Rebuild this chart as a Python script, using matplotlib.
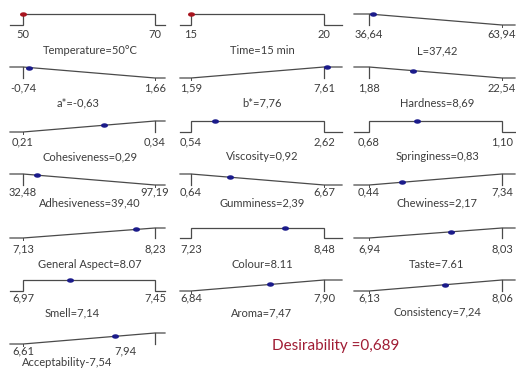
import numpy as np
import matplotlib
matplotlib.use('Agg')
import matplotlib.pyplot as plt
from matplotlib.path import Path
from matplotlib import transforms

plt.rcParams['font.family'] = ['Lato', 'DejaVu Sans']

# desirability panels, read left->right, top->bottom
names = ['Temperature', 'Time', 'L', 'a*', 'b*', 'Hardness', 'Cohesiveness',
         'Viscosity', 'Springiness', 'Adhesiveness', 'Gumminess', 'Chewiness',
         'General Aspect', 'Colour', 'Taste', 'Smell', 'Aroma', 'Consistency',
         'Acceptability']
goals = ['target', 'target', 'min', 'min', 'max', 'min', 'max',
         'target', 'target', 'min', 'min', 'max',
         'max', 'target', 'max', 'target', 'max', 'max', 'max']
lows = [50, 15, 36.64, -0.74, 1.59, 1.88, 0.21, 0.54, 0.68, 32.48, 0.64, 0.44,
        7.13, 7.23, 6.94, 6.97, 6.84, 6.13, 6.61]
highs = [70, 20, 63.94, 1.66, 7.61, 22.54, 0.34, 2.62, 1.10, 97.19, 6.67, 7.34,
         8.23, 8.48, 8.03, 7.45, 7.90, 8.06, 7.94]
values = [50, 15, 37.42, -0.63, 7.76, 8.69, 0.29, 0.92, 0.83, 39.40, 2.39, 2.17,
          8.07, 8.11, 7.61, 7.14, 7.47, 7.24, 7.54]
low_labels = ['50', '15', '36,64', '-0,74', '1,59', '1,88', '0,21', '0,54', '0,68',
              '32,48', '0,64', '0,44', '7,13', '7,23', '6,94', '6,97', '6,84',
              '6,13', '6,61']
high_labels = ['70', '20', '63,94', '1,66', '7,61', '22,54', '0,34', '2,62', '1,10',
               '97,19', '6,67', '7,34', '8,23', '8,48', '8,03', '7,45', '7,90',
               '8,06', '7,94']
titles = ['Temperature=50°C', 'Time=15 min', 'L=37,42', 'a*=-0,63', 'b*=7,76',
          'Hardness=8,69', 'Cohesiveness=0,29', 'Viscosity=0,92', 'Springiness=0,83',
          'Adhesiveness=39,40', 'Gumminess=2,39', 'Chewiness=2,17',
          'General Aspect=8.07', 'Colour=8.11', 'Taste=7.61', 'Smell=7,14',
          'Aroma=7,47', 'Consistency=7,24', 'Acceptability-7,54']
factors = ['Temperature', 'Time']
desirability = '0,689'

# layout in pixels
W, H = 516, 370
cols = [(10, 23, 155, 165), (180, 191, 324, 342), (354, 369, 502, 515)]
rows = [(14, 25), (67, 78), (121, 132), (174, 185), (228, 238), (280, 291), (333, 344)]
label_y = [34, 88, 142, 192, 249, 298, 351]
title_y = [51, 103, 157, 203, 265, 313, 362]
title_x = [90, 262, 437]
title_x_fix = {'a*': 78, 'Smell': 72, 'Acceptability': 67}
hi_label_x_fix = {'Acceptability': 125}

line_c = '#4a4a4a'
text_c = '#3c3c3c'

t = np.linspace(0, 2 * np.pi, 40)
ellipse = Path(np.column_stack([np.cos(t), 0.55 * np.sin(t)]), closed=True)

fig = plt.figure(figsize=(W / 100, H / 100), dpi=100)
fig.patch.set_facecolor('white')

for i, name in enumerate(names):
    r, c = divmod(i, 3)
    left, lo_px, hi_px, right = cols[c]
    top, bot = rows[r]
    ax = fig.add_axes([left / W, 1 - bot / H, (right - left) / W, (bot - top) / H])
    ax.axis('off')
    lo, hi = lows[i], highs[i]
    scale = (hi - lo) / (hi_px - lo_px)
    xmin = lo - (lo_px - left) * scale
    xmax = hi + (right - hi_px) * scale
    ax.set_xlim(xmin, xmax)
    ax.set_ylim(0, 1)

    g = goals[i]
    if g == 'target':
        xs = [xmin, lo, lo, hi, hi, xmax]
        ds = [0, 0, 1, 1, 0, 0]
        dv = 1
    elif g == 'min':
        xs = [xmin, lo, hi, xmax]
        ds = [1, 1, 0, 0]
        ax.plot([lo, lo], [1, 0], color=line_c, lw=0.9, clip_on=False)
        ax.plot([hi, hi], [0, -0.2], color=line_c, lw=0.7, clip_on=False)
        dv = np.interp(values[i], xs, ds)
    else:
        xs = [xmin, lo, hi, xmax]
        ds = [0, 0, 1, 1]
        ax.plot([hi, hi], [1, 0], color=line_c, lw=0.9, clip_on=False)
        ax.plot([lo, lo], [0, -0.2], color=line_c, lw=0.7, clip_on=False)
        dv = np.interp(values[i], xs, ds)
    ax.plot(xs, ds, color=line_c, lw=0.9, clip_on=False, solid_joinstyle='miter')
    mc = '#a8141e' if name in factors else '#1a1a8a'
    ax.plot([values[i]], [dv], marker=ellipse, ms=4, color=mc, ls='none', clip_on=False)

    tr = transforms.blended_transform_factory(ax.transData, fig.transFigure)
    ly = 1 - label_y[r] / H
    ax.text(lo, ly, low_labels[i], transform=tr, ha='center', va='center',
            fontsize=8, color=text_c)
    if name in hi_label_x_fix:
        fig.text(hi_label_x_fix[name] / W, ly, high_labels[i], ha='center', va='center',
                 fontsize=8, color=text_c)
    else:
        ax.text(hi, ly, high_labels[i], transform=tr, ha='center', va='center',
                fontsize=8, color=text_c)
    tx = title_x_fix.get(name, title_x[c])
    fig.text(tx / W, 1 - title_y[r] / H, titles[i], ha='center', va='center',
             fontsize=8, color=text_c)

fig.text(272 / W, 1 - 346 / H, 'Desirability =' + desirability, ha='left', va='center',
         fontsize=11, color='#a01c34')

fig.savefig('out.png', dpi=100)
